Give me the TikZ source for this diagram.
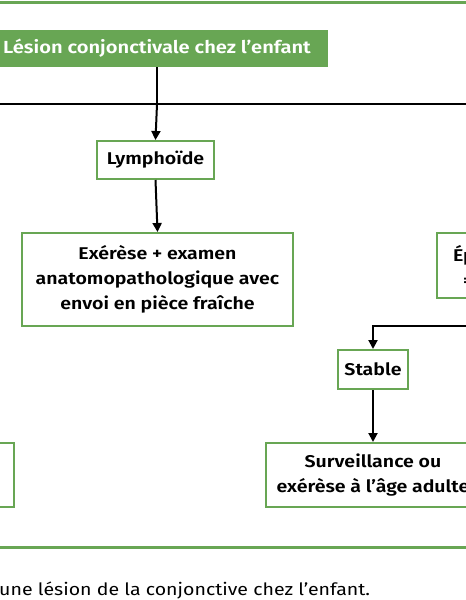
\documentclass[tikz,border=0pt]{standalone}
\usepackage{fontspec}
\setmainfont{Fira Sans}[FakeStretch=1.15, BoldFont={Fira Sans SemiBold}]
\usetikzlibrary{arrows.meta}
\definecolor{vert}{RGB}{104,166,84}
\tikzset{
  box/.style={draw=vert, line width=2pt, fill=white, align=center, inner sep=0pt, font=\fontsize{17}{25}\selectfont\bfseries},
  conn/.style={line width=2pt, black},
  arr/.style={conn, -{Triangle[length=9pt,width=9pt]}},
  rule/.style={draw=vert, line width=3pt}
}
\begin{document}
\begin{tikzpicture}[x=1pt,y=-1pt]
\useasboundingbox (0,0) rectangle (466,600);
\clip (0,0) rectangle (466,600);
\draw[rule] (-5,2) -- (471,2);
\draw[rule] (-5,547) -- (471,547);
\node[fill=vert, text=white, inner sep=0pt, minimum width=342pt, minimum height=37pt, font=\fontsize{17.5}{20}\selectfont\bfseries] (title) at (157,48.5) {Lésion conjonctivale chez l’enfant};
\coordinate (hl) at (-10,104);
\coordinate (hr) at (480,104);
\coordinate (hm) at (157,104);
\draw[conn] (hl) -- (hr);
\node[box, minimum width=117pt, minimum height=38pt] (lymph) at (155.5,160) {Lymphoïde};
\node[box, minimum width=271pt, minimum height=93pt] (exer) at (157.5,279.5) {Exérèse + examen\\anatomopathologique avec\\envoi en pièce fraîche};
\node[box, minimum width=120pt, minimum height=65pt, text width=110pt, align=left] (ep) at (497,265.5) {\hspace*{11pt}Ép\\\hspace*{21pt}=};
\node[box, minimum width=70pt, minimum height=39pt] (stable) at (373,369.5) {Stable};
\node[box, minimum width=214pt, minimum height=64pt] (surv) at (373,475) {Surveillance ou\\exérèse à l’âge adulte};
\node[box, minimum width=200pt, minimum height=64pt] (left) at (-86,475) {};
\draw[conn] (title.south) -- (hm);
\draw[arr] (hm) -- (lymph.north);
\draw[arr] (lymph.south) -- (exer.north);
\coordinate (sr) at (480,326);
\draw[arr] (sr) -| (stable.north);
\draw[arr] (stable.south) -- (surv.north);
\node[anchor=west, inner sep=0pt, font=\fontsize{17}{20}\selectfont] (cap) at (-1,590) {une lésion de la conjonctive chez l’enfant.};
\end{tikzpicture}
\end{document}
